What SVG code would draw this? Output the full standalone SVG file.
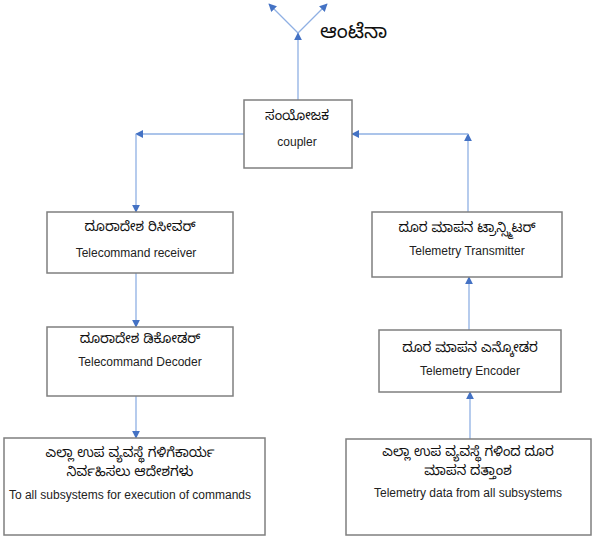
<svg xmlns="http://www.w3.org/2000/svg" width="595" height="539" viewBox="0 0 595 539">
<defs>
<style>
.box{fill:#fff;stroke:#7f7f7f;stroke-width:1.5}
.kn{font-family:"Noto Sans Kannada","Noto Sans","Noto Sans CJK SC",sans-serif;font-size:13.5px;fill:#111;text-anchor:middle}
.en{font-family:"Liberation Sans",Arial,sans-serif;font-size:12px;fill:#222;text-anchor:middle}
.ln{fill:none;stroke:#8fb0e3;stroke-width:1.3}
</style>
<marker id="ah" viewBox="0 0 10 10" refX="9" refY="5" markerWidth="8" markerHeight="8" markerUnits="userSpaceOnUse" orient="auto">
<path d="M0,0 L10,5 L0,10 z" fill="#4472c4"/>
</marker>
</defs>
<rect width="595" height="539" fill="#fff"/>
<g id="connectors">
<path class="ln" d="M298,100 L298,33" marker-end="url(#ah)"/>
<path class="ln" d="M298,33 L269,4" marker-end="url(#ah)"/>
<path class="ln" d="M298,33 L327,4" marker-end="url(#ah)"/>
<path class="ln" d="M244,134 L136,134" marker-end="url(#ah)"/>
<path class="ln" d="M136,134 L136,212" marker-end="url(#ah)"/>
<path class="ln" d="M468,212 L468,134" marker-end="url(#ah)"/>
<path class="ln" d="M468,134 L352,134" marker-end="url(#ah)"/>
<path class="ln" d="M136,273 L136,327" marker-end="url(#ah)"/>
<path class="ln" d="M136,396 L136,438" marker-end="url(#ah)"/>
<path class="ln" d="M469,330 L469,277" marker-end="url(#ah)"/>
<path class="ln" d="M470,439 L470,392" marker-end="url(#ah)"/>
</g>
<g id="antenna">
<text x="320" y="38" style="font-family:'Noto Sans Kannada','Noto Sans',sans-serif;font-size:20px;fill:#111">ಆಂಟೆನಾ</text>
</g>
<g id="coupler">
<rect class="box" x="244" y="100" width="108" height="68"/>
<text class="kn" x="297" y="120">ಸಂಯೋಜಕ</text>
<text class="en" x="297" y="146">coupler</text>
</g>
<g id="tc-receiver">
<rect class="box" x="47" y="212" width="186" height="61"/>
<text class="kn" x="140" y="231">ದೂರಾದೇಶ ರಿಸೀವರ್</text>
<text class="en" x="136" y="257">Telecommand  receiver</text>
</g>
<g id="tm-transmitter">
<rect class="box" x="372" y="212" width="190" height="65"/>
<text class="kn" x="467" y="232">ದೂರ ಮಾಪನ ಟ್ರಾನ್ಸ್ಮಿಟರ್</text>
<text class="en" x="467" y="255">Telemetry  Transmitter</text>
</g>
<g id="tc-decoder">
<rect class="box" x="47" y="327" width="186" height="69"/>
<text class="kn" x="140" y="343">ದೂರಾದೇಶ ಡಿಕೋಡರ್</text>
<text class="en" x="140" y="366">Telecommand  Decoder</text>
</g>
<g id="tm-encoder">
<rect class="box" x="379" y="330" width="182" height="62"/>
<text class="kn" x="470" y="352">ದೂರ ಮಾಪನ ಎನ್ಕೋಡರ</text>
<text class="en" x="470" y="375">Telemetry  Encoder</text>
</g>
<g id="to-subsystems">
<rect class="box" x="4" y="438" width="261" height="97"/>
<text class="kn" x="130" y="457">ಎಲ್ಲಾ ಉಪ ವ್ಯವಸ್ಥೆ ಗಳಿಗೆಕಾರ್ಯ</text>
<text class="kn" x="130" y="476">ನಿರ್ವಹಿಸಲು ಆದೇಶಗಳು</text>
<text class="en" x="130" y="499">To all subsystems for execution of commands</text>
</g>
<g id="from-subsystems">
<rect class="box" x="346" y="439" width="245" height="96"/>
<text class="kn" x="468" y="456">ಎಲ್ಲಾ ಉಪ ವ್ಯವಸ್ಥೆ ಗಳಿಂದ ದೂರ</text>
<text class="kn" x="468" y="475">ಮಾಪನ ದತ್ತಾಂಶ</text>
<text class="en" x="468" y="497">Telemetry data from all subsystems</text>
</g>
</svg>
